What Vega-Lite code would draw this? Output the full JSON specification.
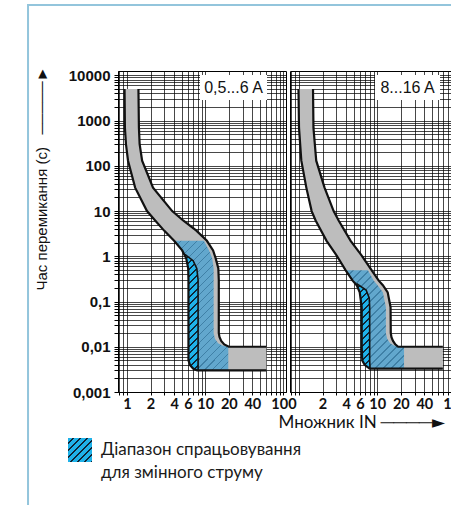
{
  "$schema": "https://vega.github.io/schema/vega-lite/v6.json",
  "autosize": {"type": "none"},
  "padding": {"left": 118, "top": 71, "right": 333, "bottom": 434},
  "background": "white",
  "datasets": {
    "bandA": [
      {"t": 5000, "lo": 0.93, "hi": 1.40}, {"t": 690, "lo": 0.94, "hi": 1.42}, {"t": 300, "lo": 0.97, "hi": 1.45},
      {"t": 130, "lo": 1.03, "hi": 1.56}, {"t": 33, "lo": 1.27, "hi": 2.15}, {"t": 10, "lo": 1.80, "hi": 3.78},
      {"t": 6.2, "lo": 2.29, "hi": 5.22}, {"t": 3.7, "lo": 2.98, "hi": 7.7}, {"t": 2.2, "lo": 4.0, "hi": 10.5},
      {"t": 1.35, "lo": 5.07, "hi": 12.6}, {"t": 0.9, "lo": 5.71, "hi": 13.6}, {"t": 0.54, "lo": 6.05, "hi": 14.7},
      {"t": 0.3, "lo": 6.1, "hi": 14.9}, {"t": 0.02, "lo": 6.1, "hi": 14.9}, {"t": 0.0165, "lo": 6.1, "hi": 15.2},
      {"t": 0.0135, "lo": 6.1, "hi": 16.0}, {"t": 0.0113, "lo": 6.1, "hi": 17.5}, {"t": 0.01001, "lo": 6.1, "hi": 20},
      {"t": 0.01, "lo": 6.1, "hi": 60.5}, {"t": 0.005, "lo": 6.1, "hi": 60.5}, {"t": 0.0039, "lo": 6.4, "hi": 60.5},
      {"t": 0.0033, "lo": 7.0, "hi": 60.5}, {"t": 0.003, "lo": 7.9, "hi": 60.5}
    ],
    "blueA": [
      {"t": 2.2, "lo": 4.0, "hi": 9.6}, {"t": 1.35, "lo": 5.07, "hi": 11.2}, {"t": 0.9, "lo": 5.71, "hi": 12.3},
      {"t": 0.54, "lo": 6.05, "hi": 12.8}, {"t": 0.02, "lo": 6.1, "hi": 12.8}, {"t": 0.015, "lo": 6.1, "hi": 13.3},
      {"t": 0.012, "lo": 6.1, "hi": 14.6}, {"t": 0.0105, "lo": 6.1, "hi": 16.8}, {"t": 0.0101, "lo": 6.1, "hi": 19.7},
      {"t": 0.005, "lo": 6.1, "hi": 19.7}, {"t": 0.0039, "lo": 6.4, "hi": 19.7}, {"t": 0.0033, "lo": 7.0, "hi": 19.7},
      {"t": 0.003, "lo": 7.9, "hi": 19.7}
    ],
    "cyanA": [
      {"t": 1.1, "lo": 5.4, "hi": 5.5}, {"t": 0.8, "lo": 5.85, "hi": 7.0}, {"t": 0.54, "lo": 6.05, "hi": 7.8},
      {"t": 0.3, "lo": 6.1, "hi": 8.1}, {"t": 0.005, "lo": 6.1, "hi": 8.1}, {"t": 0.0039, "lo": 6.4, "hi": 8.1},
      {"t": 0.0033, "lo": 7.0, "hi": 8.1}, {"t": 0.003, "lo": 7.9, "hi": 8.1}
    ],
    "edgeA": [
      {"e": "lo", "i": 1, "t": 5000, "x": 0.93}, {"e": "lo", "i": 2, "t": 690, "x": 0.94}, {"e": "lo", "i": 3, "t": 300, "x": 0.97},
      {"e": "lo", "i": 4, "t": 130, "x": 1.03}, {"e": "lo", "i": 5, "t": 33, "x": 1.27}, {"e": "lo", "i": 6, "t": 10, "x": 1.80},
      {"e": "lo", "i": 7, "t": 6.2, "x": 2.29}, {"e": "lo", "i": 8, "t": 3.7, "x": 2.98}, {"e": "lo", "i": 9, "t": 2.2, "x": 4.0},
      {"e": "lo", "i": 10, "t": 1.35, "x": 5.07}, {"e": "lo", "i": 11, "t": 0.9, "x": 5.71}, {"e": "lo", "i": 12, "t": 0.54, "x": 6.05},
      {"e": "lo", "i": 13, "t": 0.3, "x": 6.1}, {"e": "lo", "i": 14, "t": 0.005, "x": 6.1}, {"e": "lo", "i": 15, "t": 0.0039, "x": 6.4},
      {"e": "lo", "i": 16, "t": 0.0033, "x": 7.0}, {"e": "lo", "i": 17, "t": 0.003, "x": 7.9}, {"e": "lo", "i": 18, "t": 0.003, "x": 60.5},
      {"e": "hi", "i": 1, "t": 5000, "x": 1.40}, {"e": "hi", "i": 2, "t": 690, "x": 1.42}, {"e": "hi", "i": 3, "t": 300, "x": 1.45},
      {"e": "hi", "i": 4, "t": 130, "x": 1.56}, {"e": "hi", "i": 5, "t": 33, "x": 2.15}, {"e": "hi", "i": 6, "t": 10, "x": 3.78},
      {"e": "hi", "i": 7, "t": 6.2, "x": 5.22}, {"e": "hi", "i": 8, "t": 3.7, "x": 7.7}, {"e": "hi", "i": 9, "t": 2.2, "x": 10.5},
      {"e": "hi", "i": 10, "t": 1.35, "x": 12.6}, {"e": "hi", "i": 11, "t": 0.9, "x": 13.6}, {"e": "hi", "i": 12, "t": 0.54, "x": 14.7},
      {"e": "hi", "i": 13, "t": 0.3, "x": 14.9}, {"e": "hi", "i": 14, "t": 0.02, "x": 14.9}, {"e": "hi", "i": 15, "t": 0.0165, "x": 15.2},
      {"e": "hi", "i": 16, "t": 0.0135, "x": 16.0}, {"e": "hi", "i": 17, "t": 0.0113, "x": 17.5}, {"e": "hi", "i": 18, "t": 0.01, "x": 20},
      {"e": "hi", "i": 19, "t": 0.01, "x": 60.5}
    ],
    "bandB": [
      {"t": 5000, "lo": 0.985, "hi": 1.51}, {"t": 690, "lo": 1.0, "hi": 1.53}, {"t": 130, "lo": 1.07, "hi": 1.66},
      {"t": 33, "lo": 1.24, "hi": 2.12}, {"t": 10, "lo": 1.45, "hi": 2.77}, {"t": 6.2, "lo": 1.63, "hi": 3.21},
      {"t": 2.2, "lo": 2.25, "hi": 4.57}, {"t": 1.04, "lo": 3.03, "hi": 6.33}, {"t": 0.49, "lo": 3.95, "hi": 8.5},
      {"t": 0.29, "lo": 4.85, "hi": 10.45}, {"t": 0.23, "lo": 5.46, "hi": 11.8}, {"t": 0.16, "lo": 5.97, "hi": 13.6},
      {"t": 0.075, "lo": 6.33, "hi": 14.8}, {"t": 0.02, "lo": 6.33, "hi": 14.9}, {"t": 0.0163, "lo": 6.33, "hi": 15.2},
      {"t": 0.0135, "lo": 6.33, "hi": 15.9}, {"t": 0.0113, "lo": 6.33, "hi": 17.0}, {"t": 0.01001, "lo": 6.33, "hi": 18.5},
      {"t": 0.01, "lo": 6.33, "hi": 69}, {"t": 0.005, "lo": 6.43, "hi": 69}, {"t": 0.004, "lo": 6.9, "hi": 69},
      {"t": 0.0033, "lo": 8.0, "hi": 69}
    ],
    "blueB": [
      {"t": 0.49, "lo": 3.95, "hi": 7.6}, {"t": 0.29, "lo": 4.85, "hi": 9.0}, {"t": 0.23, "lo": 5.46, "hi": 10.1},
      {"t": 0.16, "lo": 5.97, "hi": 11.8}, {"t": 0.075, "lo": 6.33, "hi": 12.9}, {"t": 0.02, "lo": 6.33, "hi": 12.9},
      {"t": 0.015, "lo": 6.33, "hi": 13.4}, {"t": 0.012, "lo": 6.33, "hi": 14.6}, {"t": 0.0105, "lo": 6.33, "hi": 16.5},
      {"t": 0.0101, "lo": 6.33, "hi": 22}, {"t": 0.005, "lo": 6.43, "hi": 22}, {"t": 0.004, "lo": 6.9, "hi": 22},
      {"t": 0.0033, "lo": 8.0, "hi": 22}
    ],
    "cyanB": [
      {"t": 0.25, "lo": 5.3, "hi": 5.45}, {"t": 0.18, "lo": 5.8, "hi": 7.2}, {"t": 0.12, "lo": 6.2, "hi": 7.9},
      {"t": 0.075, "lo": 6.33, "hi": 8.0}, {"t": 0.005, "lo": 6.43, "hi": 8.0}, {"t": 0.004, "lo": 6.9, "hi": 8.05},
      {"t": 0.0033, "lo": 8.0, "hi": 8.1}
    ],
    "edgeB": [
      {"e": "lo", "i": 1, "t": 5000, "x": 0.985}, {"e": "lo", "i": 2, "t": 690, "x": 1.0}, {"e": "lo", "i": 3, "t": 130, "x": 1.07},
      {"e": "lo", "i": 4, "t": 33, "x": 1.24}, {"e": "lo", "i": 5, "t": 10, "x": 1.45}, {"e": "lo", "i": 6, "t": 6.2, "x": 1.63},
      {"e": "lo", "i": 7, "t": 2.2, "x": 2.25}, {"e": "lo", "i": 8, "t": 1.04, "x": 3.03}, {"e": "lo", "i": 9, "t": 0.49, "x": 3.95},
      {"e": "lo", "i": 10, "t": 0.29, "x": 4.85}, {"e": "lo", "i": 11, "t": 0.23, "x": 5.46}, {"e": "lo", "i": 12, "t": 0.16, "x": 5.97},
      {"e": "lo", "i": 13, "t": 0.075, "x": 6.33}, {"e": "lo", "i": 14, "t": 0.01, "x": 6.33}, {"e": "lo", "i": 15, "t": 0.005, "x": 6.43},
      {"e": "lo", "i": 16, "t": 0.004, "x": 6.9}, {"e": "lo", "i": 17, "t": 0.0033, "x": 8.0}, {"e": "lo", "i": 18, "t": 0.0033, "x": 69},
      {"e": "hi", "i": 1, "t": 5000, "x": 1.51}, {"e": "hi", "i": 2, "t": 690, "x": 1.53}, {"e": "hi", "i": 3, "t": 130, "x": 1.66},
      {"e": "hi", "i": 4, "t": 33, "x": 2.12}, {"e": "hi", "i": 5, "t": 10, "x": 2.77}, {"e": "hi", "i": 6, "t": 6.2, "x": 3.21},
      {"e": "hi", "i": 7, "t": 2.2, "x": 4.57}, {"e": "hi", "i": 8, "t": 1.04, "x": 6.33}, {"e": "hi", "i": 9, "t": 0.49, "x": 8.5},
      {"e": "hi", "i": 10, "t": 0.29, "x": 10.45}, {"e": "hi", "i": 11, "t": 0.23, "x": 11.8}, {"e": "hi", "i": 12, "t": 0.16, "x": 13.6},
      {"e": "hi", "i": 13, "t": 0.075, "x": 14.8}, {"e": "hi", "i": 14, "t": 0.02, "x": 14.9}, {"e": "hi", "i": 15, "t": 0.0163, "x": 15.2},
      {"e": "hi", "i": 16, "t": 0.0135, "x": 15.9}, {"e": "hi", "i": 17, "t": 0.0113, "x": 17.0}, {"e": "hi", "i": 18, "t": 0.01, "x": 18.5},
      {"e": "hi", "i": 19, "t": 0.01, "x": 69}
    ]
  },
  "spacing": 4,
  "bounds": "flush",
  "hconcat": [
    {
      "width": 168,
      "height": 321,
      "layer": [
        {
          "data": {"values": [{}]},
          "mark": {"type": "rect", "filled": false, "color": "#93c5dc", "strokeWidth": 2},
          "encoding": {
            "x": {"datum": 0.0543}, "x2": {"datum": 1000000},
            "y": {"datum": 360000}, "y2": {"datum": 1e-9}
          }
        },
        {
          "data": {"name": "bandA"},
          "mark": {"type": "area", "orient": "horizontal", "color": "#bdbdbd"},
          "encoding": {
            "y": {
              "field": "t", "type": "quantitative",
              "scale": {"type": "log", "domain": [0.001, 12500], "nice": false},
              "axis": {
                "grid": true,
                "values": [0.001,0.002,0.003,0.004,0.005,0.006,0.007,0.008,0.009,0.01,0.02,0.03,0.04,0.05,0.06,0.07,0.08,0.09,0.1,0.2,0.3,0.4,0.5,0.6,0.7,0.8,0.9,1,2,3,4,5,6,7,8,9,10,20,30,40,50,60,70,80,90,100,200,300,400,500,600,700,800,900,1000,2000,3000,4000,5000,6000,7000,8000,9000,10000],
                "format": "~g",
                "labelExpr": "indexof(['0.001','0.01','0.1','1','10','100','1000','10000'], datum.label) >= 0 ? replace(datum.label, '.', ',') : ''",
                "labelOverlap": false, "labelFlush": false,
                "labelFont": "Liberation Sans", "labelFontWeight": "bold", "labelFontSize": 15, "labelColor": "#111",
                "tickSize": 4, "labelPadding": 4,
                "title": "Час перемикання (с)\u00a0\u00a0\u00a0─────►",
                "titleX": -77, "titleY": 219, "titleAlign": "left", "titleBaseline": "middle", "titleAngle": 270,
                "titleFont": "Liberation Sans", "titleFontWeight": "normal", "titleFontSize": 15, "titleColor": "#111"
              }
            },
            "x": {
              "field": "lo", "type": "quantitative",
              "scale": {"type": "log", "domain": [0.767, 107.7], "nice": false},
              "axis": {
                "grid": true,
                "values": [0.8,0.9,1,2,3,4,5,6,7,8,9,10,20,30,40,50,60,70,80,90,100],
                "format": "~g",
                "labelExpr": "indexof(['1','2','4','6','10','20','40','100'], datum.label) >= 0 ? datum.label : ''",
                "labelOverlap": false, "labelFlush": false,
                "labelFont": "Lato", "labelFontWeight": "bold", "labelFontSize": 14.5, "labelColor": "#111",
                "tickSize": 3, "labelPadding": 2, "title": null
              }
            },
            "x2": {"field": "hi"}
          }
        },
        {
          "data": {"name": "blueA"},
          "mark": {
            "type": "area", "orient": "horizontal",
            "fill": {"gradient": "linear", "x1": 0, "y1": 0, "x2": 0.506, "y2": 1.209, "stops": [
              {"offset": 0, "color": "#62a7cd"}, {"offset": 0.0357, "color": "#62a7cd"}, {"offset": 0.0357, "color": "#3f80a6"}, {"offset": 0.0435, "color": "#3f80a6"},
              {"offset": 0.0435, "color": "#62a7cd"}, {"offset": 0.0791, "color": "#62a7cd"}, {"offset": 0.0791, "color": "#3f80a6"}, {"offset": 0.087, "color": "#3f80a6"},
              {"offset": 0.087, "color": "#62a7cd"}, {"offset": 0.1226, "color": "#62a7cd"}, {"offset": 0.1226, "color": "#3f80a6"}, {"offset": 0.1304, "color": "#3f80a6"},
              {"offset": 0.1304, "color": "#62a7cd"}, {"offset": 0.1661, "color": "#62a7cd"}, {"offset": 0.1661, "color": "#3f80a6"}, {"offset": 0.1739, "color": "#3f80a6"},
              {"offset": 0.1739, "color": "#62a7cd"}, {"offset": 0.2096, "color": "#62a7cd"}, {"offset": 0.2096, "color": "#3f80a6"}, {"offset": 0.2174, "color": "#3f80a6"},
              {"offset": 0.2174, "color": "#62a7cd"}, {"offset": 0.2531, "color": "#62a7cd"}, {"offset": 0.2531, "color": "#3f80a6"}, {"offset": 0.2609, "color": "#3f80a6"},
              {"offset": 0.2609, "color": "#62a7cd"}, {"offset": 0.2965, "color": "#62a7cd"}, {"offset": 0.2965, "color": "#3f80a6"}, {"offset": 0.3043, "color": "#3f80a6"},
              {"offset": 0.3043, "color": "#62a7cd"}, {"offset": 0.34, "color": "#62a7cd"}, {"offset": 0.34, "color": "#3f80a6"}, {"offset": 0.3478, "color": "#3f80a6"},
              {"offset": 0.3478, "color": "#62a7cd"}, {"offset": 0.3835, "color": "#62a7cd"}, {"offset": 0.3835, "color": "#3f80a6"}, {"offset": 0.3913, "color": "#3f80a6"},
              {"offset": 0.3913, "color": "#62a7cd"}, {"offset": 0.427, "color": "#62a7cd"}, {"offset": 0.427, "color": "#3f80a6"}, {"offset": 0.4348, "color": "#3f80a6"},
              {"offset": 0.4348, "color": "#62a7cd"}, {"offset": 0.4704, "color": "#62a7cd"}, {"offset": 0.4704, "color": "#3f80a6"}, {"offset": 0.4783, "color": "#3f80a6"},
              {"offset": 0.4783, "color": "#62a7cd"}, {"offset": 0.5139, "color": "#62a7cd"}, {"offset": 0.5139, "color": "#3f80a6"}, {"offset": 0.5217, "color": "#3f80a6"},
              {"offset": 0.5217, "color": "#62a7cd"}, {"offset": 0.5574, "color": "#62a7cd"}, {"offset": 0.5574, "color": "#3f80a6"}, {"offset": 0.5652, "color": "#3f80a6"},
              {"offset": 0.5652, "color": "#62a7cd"}, {"offset": 0.6009, "color": "#62a7cd"}, {"offset": 0.6009, "color": "#3f80a6"}, {"offset": 0.6087, "color": "#3f80a6"},
              {"offset": 0.6087, "color": "#62a7cd"}, {"offset": 0.6444, "color": "#62a7cd"}, {"offset": 0.6444, "color": "#3f80a6"}, {"offset": 0.6522, "color": "#3f80a6"},
              {"offset": 0.6522, "color": "#62a7cd"}, {"offset": 0.6878, "color": "#62a7cd"}, {"offset": 0.6878, "color": "#3f80a6"}, {"offset": 0.6957, "color": "#3f80a6"},
              {"offset": 0.6957, "color": "#62a7cd"}, {"offset": 0.7313, "color": "#62a7cd"}, {"offset": 0.7313, "color": "#3f80a6"}, {"offset": 0.7391, "color": "#3f80a6"},
              {"offset": 0.7391, "color": "#62a7cd"}, {"offset": 0.7748, "color": "#62a7cd"}, {"offset": 0.7748, "color": "#3f80a6"}, {"offset": 0.7826, "color": "#3f80a6"},
              {"offset": 0.7826, "color": "#62a7cd"}, {"offset": 0.8183, "color": "#62a7cd"}, {"offset": 0.8183, "color": "#3f80a6"}, {"offset": 0.8261, "color": "#3f80a6"},
              {"offset": 0.8261, "color": "#62a7cd"}, {"offset": 0.8617, "color": "#62a7cd"}, {"offset": 0.8617, "color": "#3f80a6"}, {"offset": 0.8696, "color": "#3f80a6"},
              {"offset": 0.8696, "color": "#62a7cd"}, {"offset": 0.9052, "color": "#62a7cd"}, {"offset": 0.9052, "color": "#3f80a6"}, {"offset": 0.913, "color": "#3f80a6"},
              {"offset": 0.913, "color": "#62a7cd"}, {"offset": 0.9487, "color": "#62a7cd"}, {"offset": 0.9487, "color": "#3f80a6"}, {"offset": 0.9565, "color": "#3f80a6"},
              {"offset": 0.9565, "color": "#62a7cd"}, {"offset": 0.9922, "color": "#62a7cd"}, {"offset": 0.9922, "color": "#3f80a6"}, {"offset": 1, "color": "#3f80a6"}
            ]}
          },
          "encoding": {
            "y": {"field": "t", "type": "quantitative"},
            "x": {"field": "lo", "type": "quantitative"},
            "x2": {"field": "hi"}
          }
        },
        {
          "data": {"name": "cyanA"},
          "mark": {
            "type": "area", "orient": "horizontal",
            "fill": {"gradient": "linear", "x1": 0, "y1": 0, "x2": 0.135, "y2": 1.131, "stops": [
              {"offset": 0, "color": "#1fb2e9"}, {"offset": 0.0368, "color": "#1fb2e9"}, {"offset": 0.0368, "color": "#0f2536"}, {"offset": 0.0526, "color": "#0f2536"},
              {"offset": 0.0526, "color": "#1fb2e9"}, {"offset": 0.0895, "color": "#1fb2e9"}, {"offset": 0.0895, "color": "#0f2536"}, {"offset": 0.1053, "color": "#0f2536"},
              {"offset": 0.1053, "color": "#1fb2e9"}, {"offset": 0.1421, "color": "#1fb2e9"}, {"offset": 0.1421, "color": "#0f2536"}, {"offset": 0.1579, "color": "#0f2536"},
              {"offset": 0.1579, "color": "#1fb2e9"}, {"offset": 0.1947, "color": "#1fb2e9"}, {"offset": 0.1947, "color": "#0f2536"}, {"offset": 0.2105, "color": "#0f2536"},
              {"offset": 0.2105, "color": "#1fb2e9"}, {"offset": 0.2474, "color": "#1fb2e9"}, {"offset": 0.2474, "color": "#0f2536"}, {"offset": 0.2632, "color": "#0f2536"},
              {"offset": 0.2632, "color": "#1fb2e9"}, {"offset": 0.3, "color": "#1fb2e9"}, {"offset": 0.3, "color": "#0f2536"}, {"offset": 0.3158, "color": "#0f2536"},
              {"offset": 0.3158, "color": "#1fb2e9"}, {"offset": 0.3526, "color": "#1fb2e9"}, {"offset": 0.3526, "color": "#0f2536"}, {"offset": 0.3684, "color": "#0f2536"},
              {"offset": 0.3684, "color": "#1fb2e9"}, {"offset": 0.4053, "color": "#1fb2e9"}, {"offset": 0.4053, "color": "#0f2536"}, {"offset": 0.4211, "color": "#0f2536"},
              {"offset": 0.4211, "color": "#1fb2e9"}, {"offset": 0.4579, "color": "#1fb2e9"}, {"offset": 0.4579, "color": "#0f2536"}, {"offset": 0.4737, "color": "#0f2536"},
              {"offset": 0.4737, "color": "#1fb2e9"}, {"offset": 0.5105, "color": "#1fb2e9"}, {"offset": 0.5105, "color": "#0f2536"}, {"offset": 0.5263, "color": "#0f2536"},
              {"offset": 0.5263, "color": "#1fb2e9"}, {"offset": 0.5632, "color": "#1fb2e9"}, {"offset": 0.5632, "color": "#0f2536"}, {"offset": 0.5789, "color": "#0f2536"},
              {"offset": 0.5789, "color": "#1fb2e9"}, {"offset": 0.6158, "color": "#1fb2e9"}, {"offset": 0.6158, "color": "#0f2536"}, {"offset": 0.6316, "color": "#0f2536"},
              {"offset": 0.6316, "color": "#1fb2e9"}, {"offset": 0.6684, "color": "#1fb2e9"}, {"offset": 0.6684, "color": "#0f2536"}, {"offset": 0.6842, "color": "#0f2536"},
              {"offset": 0.6842, "color": "#1fb2e9"}, {"offset": 0.7211, "color": "#1fb2e9"}, {"offset": 0.7211, "color": "#0f2536"}, {"offset": 0.7368, "color": "#0f2536"},
              {"offset": 0.7368, "color": "#1fb2e9"}, {"offset": 0.7737, "color": "#1fb2e9"}, {"offset": 0.7737, "color": "#0f2536"}, {"offset": 0.7895, "color": "#0f2536"},
              {"offset": 0.7895, "color": "#1fb2e9"}, {"offset": 0.8263, "color": "#1fb2e9"}, {"offset": 0.8263, "color": "#0f2536"}, {"offset": 0.8421, "color": "#0f2536"},
              {"offset": 0.8421, "color": "#1fb2e9"}, {"offset": 0.8789, "color": "#1fb2e9"}, {"offset": 0.8789, "color": "#0f2536"}, {"offset": 0.8947, "color": "#0f2536"},
              {"offset": 0.8947, "color": "#1fb2e9"}, {"offset": 0.9316, "color": "#1fb2e9"}, {"offset": 0.9316, "color": "#0f2536"}, {"offset": 0.9474, "color": "#0f2536"},
              {"offset": 0.9474, "color": "#1fb2e9"}, {"offset": 0.9842, "color": "#1fb2e9"}, {"offset": 0.9842, "color": "#0f2536"}, {"offset": 1, "color": "#0f2536"}
            ]}
          },
          "encoding": {
            "y": {"field": "t", "type": "quantitative"},
            "x": {"field": "lo", "type": "quantitative"},
            "x2": {"field": "hi"}
          }
        },
        {
          "data": {"name": "edgeA"},
          "mark": {"type": "line", "color": "#111", "strokeWidth": 2.2},
          "encoding": {
            "x": {"field": "x", "type": "quantitative"},
            "y": {"field": "t", "type": "quantitative"},
            "detail": {"field": "e"},
            "order": {"field": "i", "type": "quantitative"}
          }
        },
        {
          "data": {"name": "cyanA"},
          "mark": {"type": "line", "color": "#111", "strokeWidth": 1.6},
          "encoding": {
            "x": {"field": "hi", "type": "quantitative"},
            "y": {"field": "t", "type": "quantitative"},
            "order": {"field": "t", "type": "quantitative", "sort": "descending"}
          }
        },
        {
          "data": {"values": [{}]},
          "mark": {"type": "rect", "color": "white"},
          "encoding": {
            "x": {"datum": 8.57}, "x2": {"datum": 61.6},
            "y": {"datum": 10200}, "y2": {"datum": 2853}
          }
        },
        {
          "data": {"values": [{}]},
          "mark": {"type": "text", "text": "0,5...6 A", "font": "Liberation Sans", "fontSize": 16, "color": "#111", "align": "center", "baseline": "middle"},
          "encoding": {"x": {"datum": 22.97}, "y": {"datum": 5258}}
        },
        {
          "data": {"values": []},
          "mark": {
            "type": "point", "shape": "square", "filled": true, "opacity": 1,
            "fill": {"gradient": "linear", "x1": 0, "y1": 0, "x2": 1.02, "y2": 1.02, "stops": [
              {"offset": 0, "color": "#1fb2e9"}, {"offset": 0.1, "color": "#1fb2e9"}, {"offset": 0.1, "color": "#0f2536"}, {"offset": 0.1429, "color": "#0f2536"},
              {"offset": 0.1429, "color": "#1fb2e9"}, {"offset": 0.2429, "color": "#1fb2e9"}, {"offset": 0.2429, "color": "#0f2536"}, {"offset": 0.2857, "color": "#0f2536"},
              {"offset": 0.2857, "color": "#1fb2e9"}, {"offset": 0.3857, "color": "#1fb2e9"}, {"offset": 0.3857, "color": "#0f2536"}, {"offset": 0.4286, "color": "#0f2536"},
              {"offset": 0.4286, "color": "#1fb2e9"}, {"offset": 0.5286, "color": "#1fb2e9"}, {"offset": 0.5286, "color": "#0f2536"}, {"offset": 0.5714, "color": "#0f2536"},
              {"offset": 0.5714, "color": "#1fb2e9"}, {"offset": 0.6714, "color": "#1fb2e9"}, {"offset": 0.6714, "color": "#0f2536"}, {"offset": 0.7143, "color": "#0f2536"},
              {"offset": 0.7143, "color": "#1fb2e9"}, {"offset": 0.8143, "color": "#1fb2e9"}, {"offset": 0.8143, "color": "#0f2536"}, {"offset": 0.8571, "color": "#0f2536"},
              {"offset": 0.8571, "color": "#1fb2e9"}, {"offset": 0.9571, "color": "#1fb2e9"}, {"offset": 0.9571, "color": "#0f2536"}, {"offset": 1, "color": "#0f2536"}
            ]}
          },
          "encoding": {
            "shape": {
              "datum": "Діапазон спрацьовування",
              "scale": {"range": ["square"]},
              "legend": {
                "orient": "none", "legendX": -50, "legendY": 367, "title": null, "padding": 0,
                "symbolSize": 576, "symbolStrokeWidth": 0,
                "labelFont": "Lato", "labelFontSize": 17, "labelColor": "#1a1a1a", "labelOffset": 9, "labelLimit": 400
              }
            }
          }
        },
        {
          "data": {"values": []},
          "mark": {"type": "point", "shape": "square"},
          "encoding": {
            "opacity": {
              "datum": "для змінного струму",
              "scale": {"range": [0]},
              "legend": {
                "orient": "none", "legendX": -50, "legendY": 390, "title": null, "padding": 0,
                "symbolType": "square", "symbolSize": 576, "symbolStrokeWidth": 0,
                "labelFont": "Lato", "labelFontSize": 17, "labelColor": "#1a1a1a", "labelOffset": 9, "labelLimit": 400
              }
            }
          }
        }
      ]
    },
    {
      "width": 168,
      "height": 321,
      "layer": [
        {
          "data": {"name": "bandB"},
          "mark": {"type": "area", "orient": "horizontal", "color": "#bdbdbd"},
          "encoding": {
            "y": {
              "field": "t", "type": "quantitative",
              "scale": {"type": "log", "domain": [0.001, 12500], "nice": false},
              "axis": {
                "grid": true,
                "values": [0.001,0.002,0.003,0.004,0.005,0.006,0.007,0.008,0.009,0.01,0.02,0.03,0.04,0.05,0.06,0.07,0.08,0.09,0.1,0.2,0.3,0.4,0.5,0.6,0.7,0.8,0.9,1,2,3,4,5,6,7,8,9,10,20,30,40,50,60,70,80,90,100,200,300,400,500,600,700,800,900,1000,2000,3000,4000,5000,6000,7000,8000,9000,10000],
                "labels": false, "ticks": false, "domain": false, "title": null
              }
            },
            "x": {
              "field": "lo", "type": "quantitative",
              "scale": {"type": "log", "domain": [0.767, 107.7], "nice": false},
              "axis": {
                "grid": true,
                "values": [0.8,0.9,1,2,3,4,5,6,7,8,9,10,20,30,40,50,60,70,80,90,100],
                "format": "~g",
                "labelExpr": "indexof(['2','4','6','10','20','40','100'], datum.label) >= 0 ? datum.label : ''",
                "labelOverlap": false, "labelFlush": false,
                "labelFont": "Lato", "labelFontWeight": "bold", "labelFontSize": 14.5, "labelColor": "#111",
                "tickSize": 3, "labelPadding": 2,
                "title": "Множник IN\u00a0────►",
                "titleX": -12, "titleY": 30, "titleAlign": "left", "titleBaseline": "middle",
                "titleFont": "Lato, DejaVu Sans", "titleFontWeight": "normal", "titleFontSize": 17, "titleColor": "#111"
              }
            },
            "x2": {"field": "hi"}
          }
        },
        {
          "data": {"name": "blueB"},
          "mark": {
            "type": "area", "orient": "horizontal",
            "fill": {"gradient": "linear", "x1": 0, "y1": 0, "x2": 0.716, "y2": 1.205, "stops": [
              {"offset": 0, "color": "#62a7cd"}, {"offset": 0.041, "color": "#62a7cd"}, {"offset": 0.041, "color": "#3f80a6"}, {"offset": 0.05, "color": "#3f80a6"},
              {"offset": 0.05, "color": "#62a7cd"}, {"offset": 0.091, "color": "#62a7cd"}, {"offset": 0.091, "color": "#3f80a6"}, {"offset": 0.1, "color": "#3f80a6"},
              {"offset": 0.1, "color": "#62a7cd"}, {"offset": 0.141, "color": "#62a7cd"}, {"offset": 0.141, "color": "#3f80a6"}, {"offset": 0.15, "color": "#3f80a6"},
              {"offset": 0.15, "color": "#62a7cd"}, {"offset": 0.191, "color": "#62a7cd"}, {"offset": 0.191, "color": "#3f80a6"}, {"offset": 0.2, "color": "#3f80a6"},
              {"offset": 0.2, "color": "#62a7cd"}, {"offset": 0.241, "color": "#62a7cd"}, {"offset": 0.241, "color": "#3f80a6"}, {"offset": 0.25, "color": "#3f80a6"},
              {"offset": 0.25, "color": "#62a7cd"}, {"offset": 0.291, "color": "#62a7cd"}, {"offset": 0.291, "color": "#3f80a6"}, {"offset": 0.3, "color": "#3f80a6"},
              {"offset": 0.3, "color": "#62a7cd"}, {"offset": 0.341, "color": "#62a7cd"}, {"offset": 0.341, "color": "#3f80a6"}, {"offset": 0.35, "color": "#3f80a6"},
              {"offset": 0.35, "color": "#62a7cd"}, {"offset": 0.391, "color": "#62a7cd"}, {"offset": 0.391, "color": "#3f80a6"}, {"offset": 0.4, "color": "#3f80a6"},
              {"offset": 0.4, "color": "#62a7cd"}, {"offset": 0.441, "color": "#62a7cd"}, {"offset": 0.441, "color": "#3f80a6"}, {"offset": 0.45, "color": "#3f80a6"},
              {"offset": 0.45, "color": "#62a7cd"}, {"offset": 0.491, "color": "#62a7cd"}, {"offset": 0.491, "color": "#3f80a6"}, {"offset": 0.5, "color": "#3f80a6"},
              {"offset": 0.5, "color": "#62a7cd"}, {"offset": 0.541, "color": "#62a7cd"}, {"offset": 0.541, "color": "#3f80a6"}, {"offset": 0.55, "color": "#3f80a6"},
              {"offset": 0.55, "color": "#62a7cd"}, {"offset": 0.591, "color": "#62a7cd"}, {"offset": 0.591, "color": "#3f80a6"}, {"offset": 0.6, "color": "#3f80a6"},
              {"offset": 0.6, "color": "#62a7cd"}, {"offset": 0.641, "color": "#62a7cd"}, {"offset": 0.641, "color": "#3f80a6"}, {"offset": 0.65, "color": "#3f80a6"},
              {"offset": 0.65, "color": "#62a7cd"}, {"offset": 0.691, "color": "#62a7cd"}, {"offset": 0.691, "color": "#3f80a6"}, {"offset": 0.7, "color": "#3f80a6"},
              {"offset": 0.7, "color": "#62a7cd"}, {"offset": 0.741, "color": "#62a7cd"}, {"offset": 0.741, "color": "#3f80a6"}, {"offset": 0.75, "color": "#3f80a6"},
              {"offset": 0.75, "color": "#62a7cd"}, {"offset": 0.791, "color": "#62a7cd"}, {"offset": 0.791, "color": "#3f80a6"}, {"offset": 0.8, "color": "#3f80a6"},
              {"offset": 0.8, "color": "#62a7cd"}, {"offset": 0.841, "color": "#62a7cd"}, {"offset": 0.841, "color": "#3f80a6"}, {"offset": 0.85, "color": "#3f80a6"},
              {"offset": 0.85, "color": "#62a7cd"}, {"offset": 0.891, "color": "#62a7cd"}, {"offset": 0.891, "color": "#3f80a6"}, {"offset": 0.9, "color": "#3f80a6"},
              {"offset": 0.9, "color": "#62a7cd"}, {"offset": 0.941, "color": "#62a7cd"}, {"offset": 0.941, "color": "#3f80a6"}, {"offset": 0.95, "color": "#3f80a6"},
              {"offset": 0.95, "color": "#62a7cd"}, {"offset": 0.991, "color": "#62a7cd"}, {"offset": 0.991, "color": "#3f80a6"}, {"offset": 1, "color": "#3f80a6"}
            ]}
          },
          "encoding": {
            "y": {"field": "t", "type": "quantitative"},
            "x": {"field": "lo", "type": "quantitative"},
            "x2": {"field": "hi"}
          }
        },
        {
          "data": {"name": "cyanB"},
          "mark": {
            "type": "area", "orient": "horizontal",
            "fill": {"gradient": "linear", "x1": 0, "y1": 0, "x2": 0.204, "y2": 1.202, "stops": [
              {"offset": 0, "color": "#1fb2e9"}, {"offset": 0.0467, "color": "#1fb2e9"}, {"offset": 0.0467, "color": "#0f2536"}, {"offset": 0.0667, "color": "#0f2536"},
              {"offset": 0.0667, "color": "#1fb2e9"}, {"offset": 0.1133, "color": "#1fb2e9"}, {"offset": 0.1133, "color": "#0f2536"}, {"offset": 0.1333, "color": "#0f2536"},
              {"offset": 0.1333, "color": "#1fb2e9"}, {"offset": 0.18, "color": "#1fb2e9"}, {"offset": 0.18, "color": "#0f2536"}, {"offset": 0.2, "color": "#0f2536"},
              {"offset": 0.2, "color": "#1fb2e9"}, {"offset": 0.2467, "color": "#1fb2e9"}, {"offset": 0.2467, "color": "#0f2536"}, {"offset": 0.2667, "color": "#0f2536"},
              {"offset": 0.2667, "color": "#1fb2e9"}, {"offset": 0.3133, "color": "#1fb2e9"}, {"offset": 0.3133, "color": "#0f2536"}, {"offset": 0.3333, "color": "#0f2536"},
              {"offset": 0.3333, "color": "#1fb2e9"}, {"offset": 0.38, "color": "#1fb2e9"}, {"offset": 0.38, "color": "#0f2536"}, {"offset": 0.4, "color": "#0f2536"},
              {"offset": 0.4, "color": "#1fb2e9"}, {"offset": 0.4467, "color": "#1fb2e9"}, {"offset": 0.4467, "color": "#0f2536"}, {"offset": 0.4667, "color": "#0f2536"},
              {"offset": 0.4667, "color": "#1fb2e9"}, {"offset": 0.5133, "color": "#1fb2e9"}, {"offset": 0.5133, "color": "#0f2536"}, {"offset": 0.5333, "color": "#0f2536"},
              {"offset": 0.5333, "color": "#1fb2e9"}, {"offset": 0.58, "color": "#1fb2e9"}, {"offset": 0.58, "color": "#0f2536"}, {"offset": 0.6, "color": "#0f2536"},
              {"offset": 0.6, "color": "#1fb2e9"}, {"offset": 0.6467, "color": "#1fb2e9"}, {"offset": 0.6467, "color": "#0f2536"}, {"offset": 0.6667, "color": "#0f2536"},
              {"offset": 0.6667, "color": "#1fb2e9"}, {"offset": 0.7133, "color": "#1fb2e9"}, {"offset": 0.7133, "color": "#0f2536"}, {"offset": 0.7333, "color": "#0f2536"},
              {"offset": 0.7333, "color": "#1fb2e9"}, {"offset": 0.78, "color": "#1fb2e9"}, {"offset": 0.78, "color": "#0f2536"}, {"offset": 0.8, "color": "#0f2536"},
              {"offset": 0.8, "color": "#1fb2e9"}, {"offset": 0.8467, "color": "#1fb2e9"}, {"offset": 0.8467, "color": "#0f2536"}, {"offset": 0.8667, "color": "#0f2536"},
              {"offset": 0.8667, "color": "#1fb2e9"}, {"offset": 0.9133, "color": "#1fb2e9"}, {"offset": 0.9133, "color": "#0f2536"}, {"offset": 0.9333, "color": "#0f2536"},
              {"offset": 0.9333, "color": "#1fb2e9"}, {"offset": 0.98, "color": "#1fb2e9"}, {"offset": 0.98, "color": "#0f2536"}, {"offset": 1, "color": "#0f2536"}
            ]}
          },
          "encoding": {
            "y": {"field": "t", "type": "quantitative"},
            "x": {"field": "lo", "type": "quantitative"},
            "x2": {"field": "hi"}
          }
        },
        {
          "data": {"name": "edgeB"},
          "mark": {"type": "line", "color": "#111", "strokeWidth": 2.2},
          "encoding": {
            "x": {"field": "x", "type": "quantitative"},
            "y": {"field": "t", "type": "quantitative"},
            "detail": {"field": "e"},
            "order": {"field": "i", "type": "quantitative"}
          }
        },
        {
          "data": {"name": "cyanB"},
          "mark": {"type": "line", "color": "#111", "strokeWidth": 1.6},
          "encoding": {
            "x": {"field": "hi", "type": "quantitative"},
            "y": {"field": "t", "type": "quantitative"},
            "order": {"field": "t", "type": "quantitative", "sort": "descending"}
          }
        },
        {
          "data": {"values": [{}]},
          "mark": {"type": "rect", "color": "white"},
          "encoding": {
            "x": {"datum": 9.36}, "x2": {"datum": 63.4},
            "y": {"datum": 10200}, "y2": {"datum": 2853}
          }
        },
        {
          "data": {"values": [{}]},
          "mark": {"type": "text", "text": "8...16 A", "font": "Liberation Sans", "fontSize": 16, "color": "#111", "align": "center", "baseline": "middle"},
          "encoding": {"x": {"datum": 24.4}, "y": {"datum": 5258}}
        }
      ]
    }
  ],
  "config": {
    "view": {"stroke": "#000", "strokeWidth": 1},
    "axis": {
      "gridColor": "#000", "gridOpacity": 0.8, "gridWidth": 0.9,
      "domainColor": "#000", "domainWidth": 1, "tickColor": "#000", "tickWidth": 1
    }
  }
}
